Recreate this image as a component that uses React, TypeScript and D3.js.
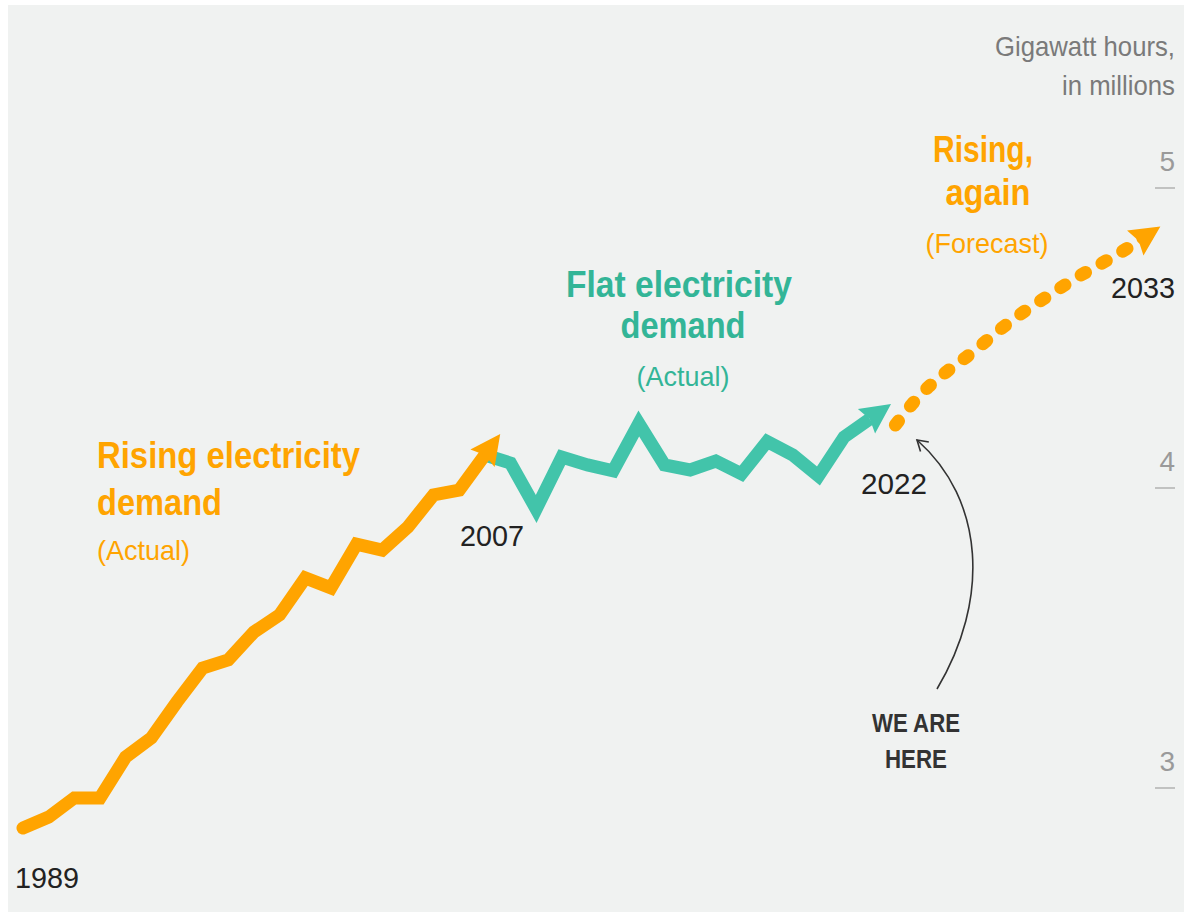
import React from "react";
import * as d3 from "d3";

const risingYears = [1989, 1990, 1991, 1992, 1993, 1994, 1995, 1996, 1997, 1998, 1999, 2000, 2001, 2002, 2003, 2004, 2005, 2006, 2007];
const risingValues = [2.867, 2.903, 2.967, 2.967, 3.103, 3.167, 3.287, 3.4, 3.427, 3.52, 3.577, 3.7, 3.667, 3.813, 3.793, 3.87, 3.977, 3.993, 4.11];

const flatYears = [2007, 2008, 2009, 2010, 2011, 2012, 2013, 2014, 2015, 2016, 2017, 2018, 2019, 2020, 2021, 2022];
const flatValues = [4.11, 4.083, 3.93, 4.103, 4.077, 4.057, 4.215, 4.077, 4.06, 4.09, 4.047, 4.155, 4.11, 4.04, 4.17, 4.23];

const forecastYears = [2023, 2024, 2025, 2026, 2027, 2028, 2029, 2030, 2031, 2032, 2033];
const forecastValues = [4.21, 4.313, 4.388, 4.452, 4.523, 4.587, 4.643, 4.698, 4.747, 4.797, 4.853];

const yTicks = [3, 4, 5];
const yearLabels = ["1989", "2007", "2022", "2033"];

const ORANGE = "#ffa400";
const TEAL = "#42c4aa";
const TEAL_TEXT = "#33b597";
const FONT = "'Liberation Sans', Arial, sans-serif";

const W = 1184;
const H = 915;

const x = d3.scaleLinear().domain([1989, 2033]).range([23, 1152]);
const y = d3.scaleLinear().domain([3, 5]).range([788, 188]);

type Pt = [number, number];

function pts(years: number[], vals: number[]): Pt[] {
  return years.map((yr, i) => [x(yr), y(vals[i])] as Pt);
}

function arrowHead(p: Pt[], ahead: number, len = 30, half = 15, notch = 4): string {
  const a = p[p.length - 2];
  const b = p[p.length - 1];
  const dx = b[0] - a[0];
  const dy = b[1] - a[1];
  const L = Math.hypot(dx, dy);
  const ux = dx / L;
  const uy = dy / L;
  const px = -uy;
  const py = ux;
  const tip: Pt = [b[0] + ux * ahead, b[1] + uy * ahead];
  const bc: Pt = [tip[0] - ux * len, tip[1] - uy * len];
  const c1: Pt = [bc[0] + px * half, bc[1] + py * half];
  const c2: Pt = [bc[0] - px * half, bc[1] - py * half];
  const n: Pt = [bc[0] + ux * notch, bc[1] + uy * notch];
  return `M${tip[0]},${tip[1]}L${c1[0]},${c1[1]}L${n[0]},${n[1]}L${c2[0]},${c2[1]}Z`;
}

type Lbl = { t: string; x: number; y: number; w: number; size: number; bold?: boolean; anchor?: string };

function T({ l, fill }: { l: Lbl; fill: string }) {
  return (
    <text
      x={l.x}
      y={l.y}
      textAnchor={(l.anchor || "start") as any}
      fontFamily={FONT}
      fontSize={l.size}
      fontWeight={l.bold ? "bold" : "normal"}
      fill={fill}
      textLength={l.w}
      lengthAdjust="spacingAndGlyphs"
    >
      {l.t}
    </text>
  );
}

export default function App() {
  const line = d3.line<Pt>().x((d) => d[0]).y((d) => d[1]);
  const curve = d3.line<Pt>().x((d) => d[0]).y((d) => d[1]).curve(d3.curveMonotoneX);

  const rising = pts(risingYears, risingValues);
  const flat = pts(flatYears, flatValues);
  const fc = pts(forecastYears, forecastValues);

  // annotation arrow
  const a0: Pt = [937, 689];
  const a1: Pt = [990, 600];
  const a2: Pt = [985, 500];
  const a3: Pt = [917, 440];
  const bx = a2[0] - a3[0];
  const by = a2[1] - a3[1];
  const ang = Math.atan2(by, bx);
  const arm = 12;
  const arm1: Pt = [a3[0] + arm * Math.cos(ang + 0.55), a3[1] + arm * Math.sin(ang + 0.55)];
  const arm2: Pt = [a3[0] + arm * Math.cos(ang - 0.55), a3[1] + arm * Math.sin(ang - 0.55)];

  const yearPos: Lbl[] = [
    { t: yearLabels[0], x: 15, y: 888, w: 64, size: 29 },
    { t: yearLabels[1], x: 460, y: 546, w: 64, size: 29 },
    { t: yearLabels[2], x: 861, y: 494, w: 66, size: 29 },
    { t: yearLabels[3], x: 1175, y: 298, w: 64, size: 29, anchor: "end" },
  ];

  const orangeTitle: Lbl[] = [
    { t: "Rising electricity", x: 97, y: 468, w: 263, size: 37, bold: true },
    { t: "demand", x: 97, y: 515, w: 125, size: 37, bold: true },
    { t: "(Actual)", x: 97, y: 560, w: 93, size: 28 },
  ];
  const tealTitle: Lbl[] = [
    { t: "Flat electricity", x: 679, y: 297, w: 226, size: 37, bold: true, anchor: "middle" },
    { t: "demand", x: 683, y: 338, w: 125, size: 37, bold: true, anchor: "middle" },
    { t: "(Actual)", x: 683, y: 386, w: 93, size: 28, anchor: "middle" },
  ];
  const forecastTitle: Lbl[] = [
    { t: "Rising,", x: 983, y: 162, w: 100, size: 37, bold: true, anchor: "middle" },
    { t: "again", x: 988, y: 205, w: 85, size: 37, bold: true, anchor: "middle" },
    { t: "(Forecast)", x: 987, y: 253, w: 123, size: 28, anchor: "middle" },
  ];
  const hereLbl: Lbl[] = [
    { t: "WE ARE", x: 916, y: 732, w: 88, size: 26, bold: true, anchor: "middle" },
    { t: "HERE", x: 916, y: 768, w: 62, size: 26, bold: true, anchor: "middle" },
  ];
  const unitLbl: Lbl[] = [
    { t: "Gigawatt hours,", x: 1175, y: 56, w: 180, size: 28, anchor: "end" },
    { t: "in millions", x: 1175, y: 95, w: 113, size: 28, anchor: "end" },
  ];

  return (
    <svg width={W} height={H} style={{ position: "absolute", left: 0, top: 0, display: "block" }}>
      <rect x={0} y={0} width={W} height={H} fill="#ffffff" />
      <rect x={8} y={5} width={W - 8} height={907} fill="#f0f2f1" />

      {unitLbl.map((l) => <T key={l.t} l={l} fill="#7a7a7a" />)}

      {yTicks.map((t) => (
        <g key={t}>
          <line x1={1155} x2={1175} y1={y(t)} y2={y(t)} stroke="#a8a8a8" strokeWidth={1.3} />
          <text x={1175} y={y(t) - 17} textAnchor="end" fontFamily={FONT} fontSize={28} fill="#9a9a9a">{t}</text>
        </g>
      ))}

      <path d={curve(fc) || ""} fill="none" stroke={ORANGE} strokeWidth={13} strokeLinecap="round" strokeDasharray="5 19" />
      <path d={arrowHead(fc, 10)} fill={ORANGE} />

      <path d={line(flat) || ""} fill="none" stroke={TEAL} strokeWidth={13} strokeLinejoin="miter" strokeLinecap="butt" />
      <path d={arrowHead(flat, 26)} fill={TEAL} />

      <path d={line(rising) || ""} fill="none" stroke={ORANGE} strokeWidth={13} strokeLinejoin="miter" strokeLinecap="round" />
      <path d={arrowHead(rising, 26)} fill={ORANGE} />

      {yearPos.map((l) => <T key={l.t} l={l} fill="#222" />)}

      {orangeTitle.map((l, i) => <T key={"o" + i} l={l} fill={ORANGE} />)}
      {tealTitle.map((l, i) => <T key={"t" + i} l={l} fill={TEAL_TEXT} />)}
      {forecastTitle.map((l, i) => <T key={"f" + i} l={l} fill={ORANGE} />)}

      <path d={`M${a0[0]},${a0[1]}C${a1[0]},${a1[1]} ${a2[0]},${a2[1]} ${a3[0]},${a3[1]}`} fill="none" stroke="#333" strokeWidth={1.6} />
      <path d={`M${arm1[0]},${arm1[1]}L${a3[0]},${a3[1]}L${arm2[0]},${arm2[1]}`} fill="none" stroke="#333" strokeWidth={1.6} />
      {hereLbl.map((l, i) => <T key={"h" + i} l={l} fill="#333" />)}
    </svg>
  );
}
